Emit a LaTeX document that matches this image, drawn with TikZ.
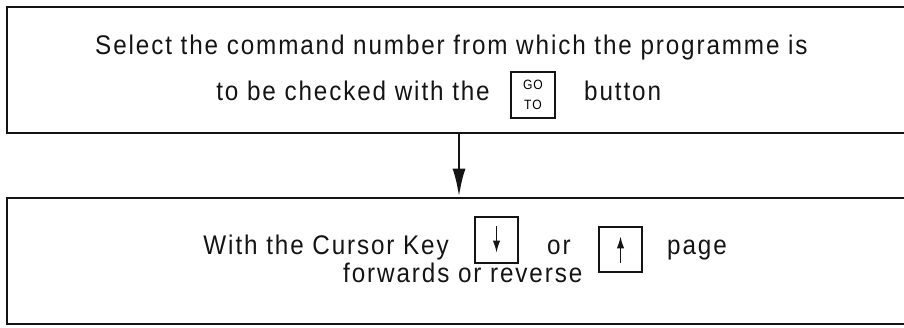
\documentclass[tikz,border=0pt]{standalone}
\usepackage{fontspec}
\setmainfont[LetterSpace=7, FakeStretch=0.9]{Liberation Sans}
\usetikzlibrary{arrows.meta, positioning, fit}
\definecolor{inkblack}{RGB}{20,20,20}
\tikzset{
  panel/.style={rectangle, draw=inkblack, line width=2.3pt, inner sep=0pt},
  keycap/.style={rectangle, draw=inkblack, line width=1.1pt, inner sep=0pt,
    minimum width=1.29cm, minimum height=1.38cm},
  caption/.style={font=\fontsize{23}{28}\selectfont, inner sep=0pt, text=inkblack},
  flow/.style={-{Latex[length=0.84cm, width=0.39cm]}, line width=2.2pt, color=inkblack},
  keytip/.style={-{Latex[length=0.36cm, width=0.22cm]}, line width=1.2pt, color=inkblack}
}

\begin{document}
\begin{tikzpicture}[x=0.03cm, y=-0.03cm]
  \useasboundingbox (0,0) rectangle (904,327);
  % Boxes, open to the right (cut by the page edge)
  \node[panel, fit={(7,7) (911,133)}] (selbox) {};
  \node[panel, fit={(7,198) (911,324)}] (cursbox) {};
  \draw[flow] (selbox.south) -- (cursbox.north);
  % Top box texts
  \node[caption, anchor=base west] (selA) at (95,54)
    {Select the command number from which the programme is};
  \node[caption, anchor=base east] (selB) at (490,100) {to be checked with the};
  \node[keycap, minimum width=1.32cm, minimum height=1.38cm,
    font=\fontsize{11.5}{16.5}\selectfont, align=center] (goto) at (533,95) {GO\\TO};
  \node[caption, anchor=base west] (selC) at (584,100) {button};
  % Bottom box texts
  \node[caption, anchor=base east] (cursA) at (449,254) {With the Cursor Key};
  \node[keycap] (kdown) at (496.5,240) {};
  \node[caption, anchor=base west] (cursOr) at (547,254) {or};
  \node[keycap, minimum height=1.35cm] (kup) at (620.5,249.5) {};
  \node[caption, anchor=base west] (cursB) at (667,254) {page};
  \node[caption, anchor=base west] (cursC) at (343,282) {forwards or reverse};
  % Cursor arrows
  \draw[keytip] ([yshift=-0.3cm]kdown.north) -- ([yshift=0.33cm]kdown.south);
  \draw[keytip] ([yshift=0.3cm]kup.south) -- ([yshift=-0.3cm]kup.north);
\end{tikzpicture}
\end{document}
